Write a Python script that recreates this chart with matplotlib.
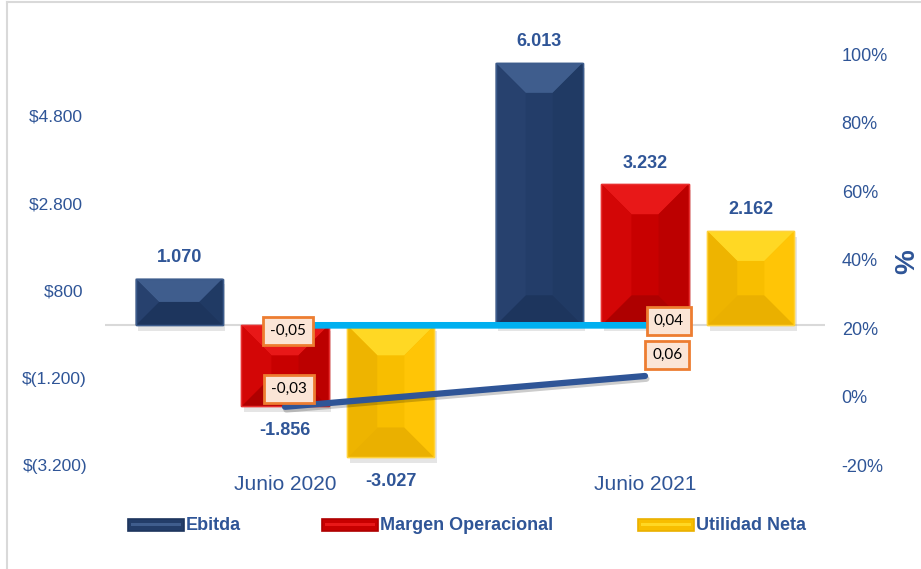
import matplotlib
matplotlib.use("Agg")
import matplotlib.pyplot as plt
import matplotlib.patheffects as pe
from matplotlib.patches import Polygon, Rectangle
from matplotlib.lines import Line2D

plt.rcParams['font.family'] = ['Liberation Sans', 'DejaVu Sans']

# datos
periodos = ['Junio 2020', 'Junio 2021']
ebitda = [1070, 6013]
margen_operacional = [-1856, 3232]
utilidad_neta = [-3027, 2162]
linea_pct = [-0.03, 0.06]      # eje derecho
linea_base = [-0.05, 0.04]     # eje izquierdo
etiquetas_pct = ['-0,03', '0,06']
etiquetas_base = ['-0,05', '0,04']

ticks_izq = [-3200, -1200, 800, 2800, 4800]
ticks_der = [-0.2, 0.0, 0.2, 0.4, 0.6, 0.8, 1.0]

AZUL_TXT = '#2F5597'

series = [
    ('Ebitda', ebitda, dict(base='#233D69', top='#3F5D8D', bottom='#1D355D',
                            left='#27416E', right='#203A64', edge='#3D5C8C')),
    ('Margen Operacional', margen_operacional, dict(base='#C80000', top='#E81818', bottom='#AE0000',
                                                    left='#D30606', right='#BC0000', edge='#E83030')),
    ('Utilidad Neta', utilidad_neta, dict(base='#F8BE00', top='#FFD824', bottom='#EAB000',
                                          left='#EEB400', right='#FFC506', edge='#FFD23A')),
]


def fmt_num(v):
    return f"{v:,}".replace(",", ".")


def fmt_money(v):
    s = f"{abs(v):,}".replace(",", ".")
    return f"$({s})" if v < 0 else f"${s} "


fig = plt.figure(figsize=(9.21, 5.69), dpi=100)
ax = fig.add_axes([105 / 921, 1 - 465 / 569, 720 / 921, 436.5 / 569])
ax.set_xlim(-0.5, 1.5)
ax.set_ylim(-3200, 6800)
ax2 = ax.twinx()
ax2.set_ylim(-0.2, 1.075)

for a in (ax, ax2):
    for s in a.spines.values():
        s.set_visible(False)

ax.axhline(0, color='#D9D9D9', lw=1.5, zorder=1)

# escala px -> datos para el biselado
sx = (ax.get_xlim()[1] - ax.get_xlim()[0]) / ax.bbox.width
sy = (ax.get_ylim()[1] - ax.get_ylim()[0]) / ax.bbox.height

x = list(range(len(periodos)))
offsets = [-0.294, 0.0, 0.294]
width = 0.242

for (name, vals, c), off in zip(series, offsets):
    bars = ax.bar([i + off for i in x], vals, width, color=c['base'], edgecolor=c['edge'],
                  lw=1, zorder=2,
                  path_effects=[pe.SimplePatchShadow(offset=(2, -4), shadow_rgbFace='#8c8c8c', alpha=0.22),
                                pe.Normal()])
    for p, v in zip(bars.patches, vals):
        x0, w = p.get_x(), p.get_width()
        y0, y1 = sorted([p.get_y(), p.get_y() + p.get_height()])
        d = min(30, (y1 - y0) / sy / 2, w / sx * 0.35)
        dx, dy = d * sx, d * sy
        polys = [
            ([(x0, y1), (x0 + w, y1), (x0 + w - dx, y1 - dy), (x0 + dx, y1 - dy)], c['top']),
            ([(x0, y0), (x0 + w, y0), (x0 + w - dx, y0 + dy), (x0 + dx, y0 + dy)], c['bottom']),
            ([(x0, y0), (x0, y1), (x0 + dx, y1 - dy), (x0 + dx, y0 + dy)], c['left']),
            ([(x0 + w, y0), (x0 + w, y1), (x0 + w - dx, y1 - dy), (x0 + w - dx, y0 + dy)], c['right']),
        ]
        for pts, col in polys:
            ax.add_patch(Polygon(pts, closed=True, fc=col, ec='none', zorder=3))
        ax.add_patch(Rectangle((x0, y0), w, y1 - y0, fc='none', ec=c['edge'], lw=1, zorder=3))
        cx = x0 + w / 2
        if v >= 0:
            ax.annotate(fmt_num(v), (cx, y1), xytext=(0, 9), textcoords='offset points',
                        ha='center', va='bottom', fontsize=13, fontweight='bold', color=AZUL_TXT)
        else:
            ax.annotate(fmt_num(v), (cx, y0), xytext=(0, -11), textcoords='offset points',
                        ha='center', va='top', fontsize=13, fontweight='bold', color=AZUL_TXT)

# lineas
ax.plot(x, linea_base, color='#00B0F0', lw=4.8, zorder=5)
ax2.plot(x, linea_pct, color='#2F5597', lw=4.5, solid_capstyle='round', zorder=5,
         path_effects=[pe.SimpleLineShadow(offset=(1, -2), alpha=0.2), pe.Normal()])

caja = dict(boxstyle='square,pad=0.45', fc='#FBE5D6', ec='#ED7D31', lw=2)
for i, (v, t, o) in enumerate(zip(linea_base, etiquetas_base, [(2, -4), (17, 3)])):
    ax.annotate(t, (x[i], v), xytext=o, textcoords='offset points', ha='center', va='center',
                fontsize=11, family='Lato', color='black', bbox=caja, zorder=8)
for i, (v, t, o) in enumerate(zip(linea_pct, etiquetas_pct, [(3, 13), (16, 15)])):
    ax2.annotate(t, (x[i], v), xytext=o, textcoords='offset points', ha='center', va='center',
                 fontsize=11, family='Lato', color='black', bbox=caja, zorder=8)

# ejes
ax.set_xticks(x, periodos)
ax.tick_params(axis='x', length=0, pad=7, labelsize=15, labelcolor=AZUL_TXT)
ax.set_yticks(ticks_izq, [fmt_money(v) for v in ticks_izq])
ax.tick_params(axis='y', length=0, pad=13, labelsize=12.5, labelcolor=AZUL_TXT)
ax2.set_yticks(ticks_der, [f"{round(v * 100)}%" for v in ticks_der])
ax2.tick_params(axis='y', length=0, pad=12, labelsize=13, labelcolor=AZUL_TXT)

fig.text(907 / 921, 1 - 262 / 569, '%', rotation=90, fontsize=20, fontweight='bold',
         color=AZUL_TXT, ha='center', va='center')

# leyenda
leg_x = [128, 322, 638]
for (name, vals, c), lx in zip(series, leg_x):
    fig.add_artist(Rectangle((lx / 921, 1 - 531 / 569), 56 / 921, 12 / 569, transform=fig.transFigure,
                             fc=c['base'], ec=c['bottom'], lw=1.2))
    fig.add_artist(Rectangle((lx / 921 + 3 / 921, 1 - 526 / 569), 50 / 921, 3 / 569, transform=fig.transFigure,
                             fc=c['top'], ec='none'))
    fig.text((lx + 58) / 921, 1 - 525 / 569, name, ha='left', va='center', fontsize=13,
             fontweight='bold', color=AZUL_TXT)

# borde del grafico
fig.add_artist(Line2D([7 / 921, 7 / 921], [0, 1 - 2 / 569], transform=fig.transFigure, color='#D9D9D9', lw=1.5))
fig.add_artist(Line2D([7 / 921, 1], [1 - 2 / 569, 1 - 2 / 569], transform=fig.transFigure, color='#D9D9D9', lw=1.5))

fig.savefig('out.png', dpi=100)
